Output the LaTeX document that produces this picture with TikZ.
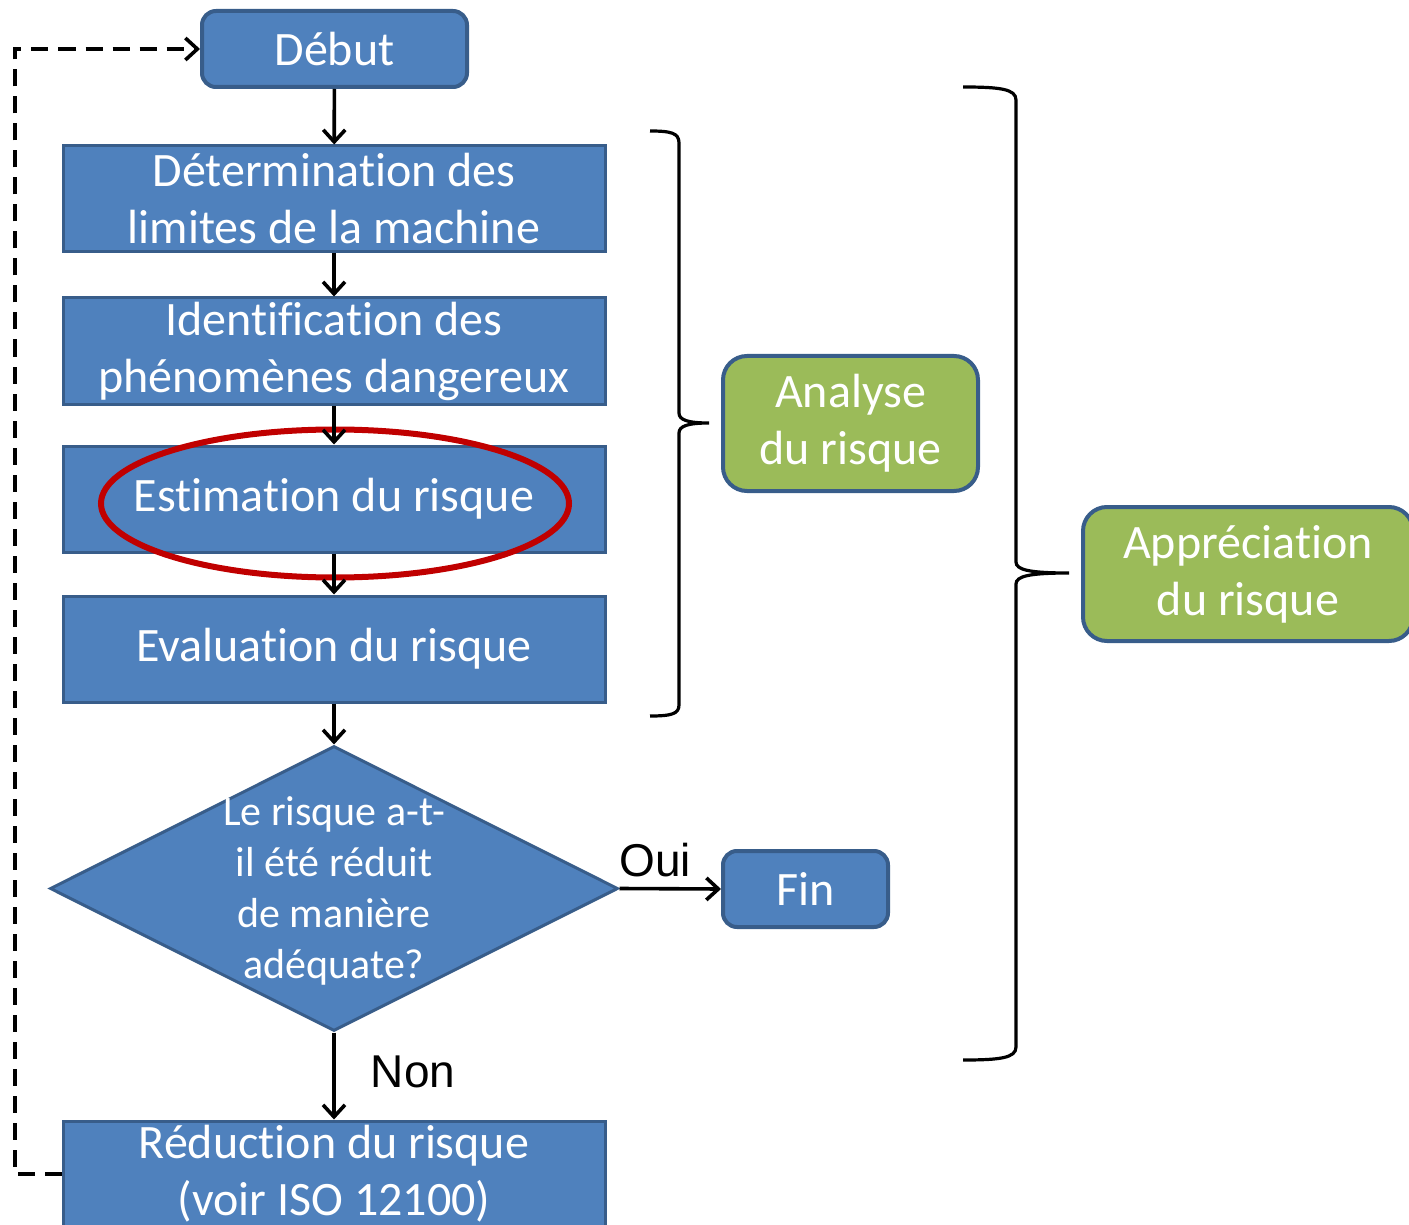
\documentclass[tikz,border=0pt]{standalone}
\usepackage{fontspec}
\setmainfont[Ligatures={NoCommon}]{Carlito}
\newfontfamily\arialfont{Liberation Sans}
\usetikzlibrary{shapes.geometric,arrows.meta}
\definecolor{boxblue}{HTML}{4F81BD}
\definecolor{boxborder}{HTML}{385D8A}
\definecolor{boxgreen}{HTML}{9BBB59}
\definecolor{markred}{HTML}{C00000}
\begin{document}
\begin{tikzpicture}[x=0.5pt,y=-0.5pt,
  bigtext/.style={font=\fontsize{24}{28.5}\selectfont},
  stepbox/.style={rectangle, fill=boxblue, draw=boxborder, line width=1.5pt, text=white, bigtext, align=center, minimum width=271pt, minimum height=53pt, inner sep=0pt},
  roundbox/.style={rectangle, rounded corners=7pt, fill=boxblue, draw=boxborder, line width=2pt, text=white, bigtext, align=center, inner sep=0pt},
  greenbox/.style={rectangle, rounded corners=12pt, fill=boxgreen, draw=boxborder, line width=2pt, text=white, bigtext, align=center, inner sep=0pt},
  arr/.style={draw=black, line width=1.8pt, -{Straight Barb[length=6pt,width=11pt,line width=1.8pt]}},
  dashline/.style={draw=black, line width=1.8pt, dash pattern=on 8.5pt off 5pt, -{Straight Barb[length=6pt,width=11pt,line width=1.8pt]}},
  bracestyle/.style={draw=black, line width=1.6pt},
  lbl/.style={font=\arialfont\fontsize{23}{27}\selectfont, text=black, inner sep=0pt}
]
\useasboundingbox (0,0) rectangle (1409,1225);
\clip (0,0) rectangle (1409,1225);

% nodes
\node[roundbox, minimum width=132.5pt, minimum height=38pt] (debut) at (334.5,49) {Début};
\node[stepbox] (b1) at (334,199) {Détermination des\\limites de la machine};
\node[stepbox] (b2) at (334,351) {Identification des\\phénomènes dangereux};
\node[stepbox] (b3) at (334,499) {Estimation du risque};
\node[stepbox] (b4) at (334,649) {Evaluation du risque};
\node[diamond, fill=boxblue, draw=boxborder, line width=1.5pt, minimum width=284pt, minimum height=142.5pt, inner sep=0pt] (q) at (334,888.5) {};
\node[text=white, align=center, font=\fontsize{21}{25.5}\selectfont, inner sep=0pt] (qt) at (334,890.5) {Le risque a-t-\\il été réduit\\de manière\\adéquate?};
\node[roundbox, minimum width=82.5pt, minimum height=38pt] (fin) at (805.5,889) {Fin};
\node[stepbox] (red) at (334,1174) {Réduction du risque\\(voir ISO 12100)};
\node[greenbox, minimum width=127.5pt, minimum height=67.5pt] (ana) at (850.5,423.5) {Analyse\\du risque};
\node[greenbox, minimum width=165pt, minimum height=67pt] (app) at (1248,574) {Appréciation\\du risque};

% red ellipse
\draw[markred, line width=3pt] (335,503.5) ellipse [x radius=117pt, y radius=37pt];

% connectors
\draw[arr] (debut) -- (b1);
\draw[arr] (b1) -- (b2);
\draw[arr] (b2) -- (b3);
\draw[arr] (b3) -- (b4);
\draw[arr] (b4) -- (q.north);
\draw[arr] (q.east) -- node[lbl, above=5pt, pos=0.35] (oui) {Oui} (fin.west);
\draw[arr] (q.south) -- (red.north);
\node[lbl] (non) at (413,1072) {Non};
\draw[dashline] (red.west) -- (15,1174) |- (debut.west);

% braces
\draw[bracestyle] (650,131) .. controls (671,131) and (679,133) .. (679,143) -- (679,413)
  .. controls (679,420) and (688,423) .. (709,423)
  .. controls (688,423) and (679,426) .. (679,433) -- (679,705)
  .. controls (679,714) and (671,716) .. (650,716);
\draw[bracestyle] (963,87) .. controls (1000,87) and (1016,89) .. (1016,100) -- (1016,562)
  .. controls (1016,570) and (1030,573) .. (1069,573)
  .. controls (1030,573) and (1016,576) .. (1016,584) -- (1016,1047)
  .. controls (1016,1058) and (1000,1060) .. (963,1060);
\end{tikzpicture}
\end{document}
